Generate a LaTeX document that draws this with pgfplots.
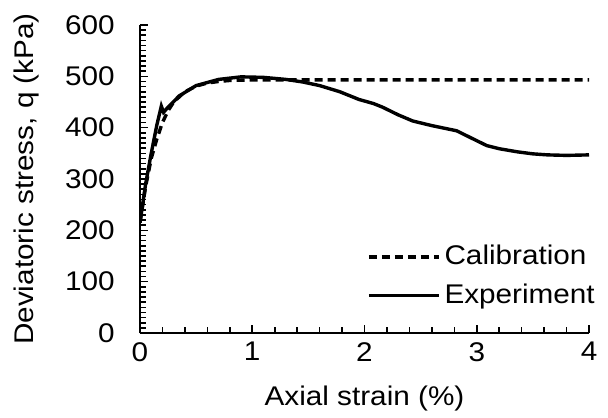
\documentclass[border=0pt]{standalone}
\usepackage{fontspec}
\setmainfont[FakeStretch=1.1]{Liberation Sans}
\usepackage{pgfplots}
\pgfplotsset{compat=1.18}
\begin{document}
\fontsize{13.5}{15}\selectfont
\begin{tikzpicture}
\useasboundingbox (-70pt,-42pt) rectangle (234pt,166.5pt);
\begin{axis}[
  at={(0,0)}, anchor=south west,
  scale only axis, width=224.5pt, height=154pt,
  xmin=0, xmax=4, ymin=0, ymax=600,
  axis lines=left, axis line style={line width=1pt, -},
  xtick={0,1,2,3,4}, ytick={0,100,...,600},
  minor x tick num=4, minor y tick num=9,
  tick align=inside,
  major tick length=4pt, minor tick length=2.8pt,
  every tick/.style={line width=0.8pt, black},
  /pgf/number format/assume math mode=true,
  ticklabel style={font=\fontsize{13.5}{15}\selectfont},
  xticklabel style={yshift=0pt},
  yticklabel style={xshift=-8pt},
  xlabel={Axial strain (\%)},
  ylabel={Deviatoric stress, q (kPa)},
  label style={font=\fontsize{13.5}{15}\selectfont},
  xlabel style={yshift=-3pt},
  ylabel style={yshift=4pt},
  legend style={draw=none, fill=none, at={(rel axis cs:0.505,0.30)}, anchor=north west,
    font=\fontsize{13.5}{15}\selectfont, row sep=3.5pt, inner sep=0pt},
  legend cell align=left,
  legend image code/.code={\draw[#1] (0pt,0pt) -- (35pt,0pt);},
]
\addplot[black, line width=1.7pt, dash pattern=on 4pt off 2.5pt] coordinates {
(0,215) (0.05,285) (0.1,340) (0.15,378) (0.2,410) (0.25,433) (0.3,450) (0.4,470)
(0.5,481) (0.6,487) (0.7,490) (0.8,492) (1,493) (4,493)
};
\addlegendentry{Calibration}
\addplot[black, line width=1.7pt] coordinates {
(0,215) (0.05,290) (0.1,350) (0.15,405) (0.19,442) (0.21,430) (0.25,440) (0.35,462)
(0.5,482) (0.7,494) (0.9,499) (1.1,498) (1.3,494) (1.45,489) (1.6,482) (1.78,470)
(1.95,455) (2.08,447) (2.16,440) (2.3,425) (2.43,413) (2.6,404) (2.82,394) (2.95,380)
(3.09,365) (3.2,359) (3.36,353) (3.5,349) (3.63,347) (3.8,346) (4,347)
};
\addlegendentry{Experiment}
\end{axis}
\end{tikzpicture}
\end{document}
